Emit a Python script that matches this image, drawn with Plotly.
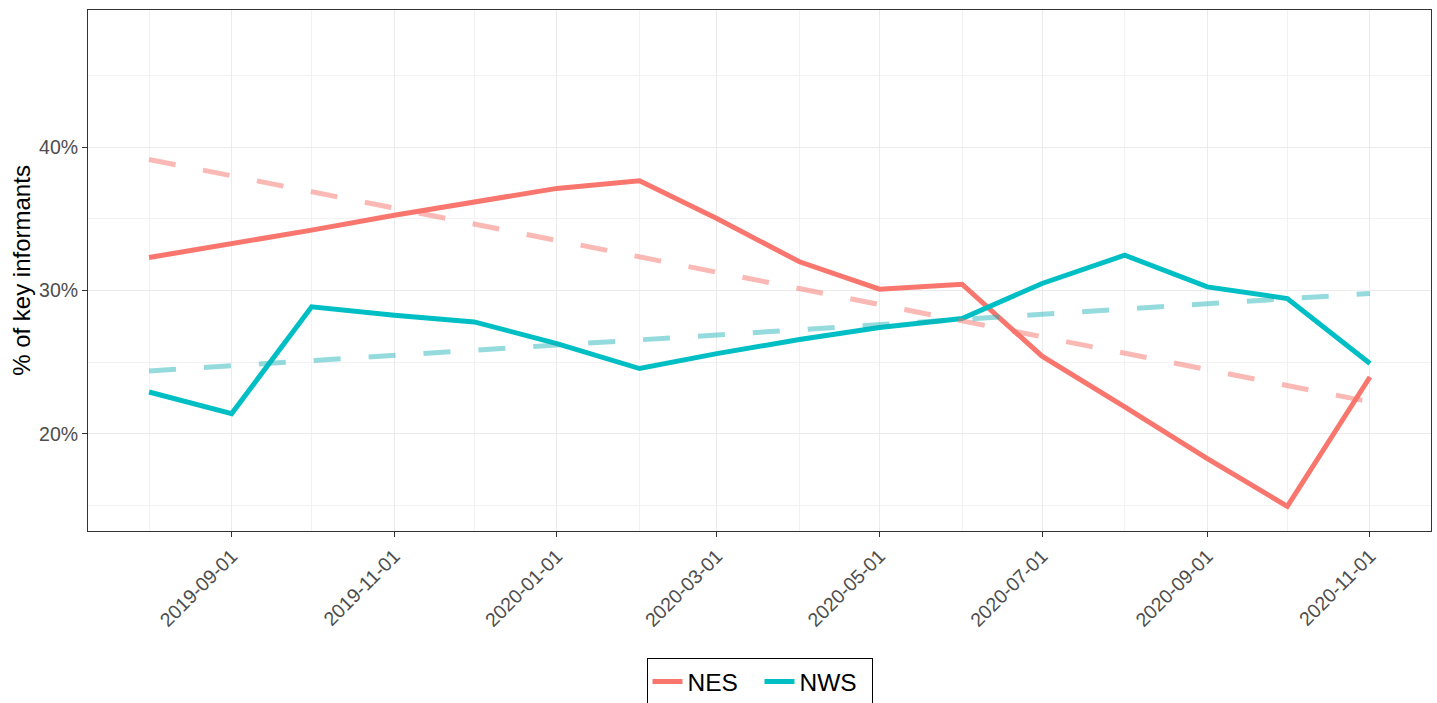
import plotly.graph_objects as go

months = ["2019-08-01", "2019-09-01", "2019-10-01", "2019-11-01", "2019-12-01",
          "2020-01-01", "2020-02-01", "2020-03-01", "2020-04-01", "2020-05-01",
          "2020-06-01", "2020-07-01", "2020-08-01", "2020-09-01", "2020-10-01",
          "2020-11-01"]
nes = [32.30, 33.23, 34.21, 35.25, 36.18, 37.12, 37.65, 35.02, 32.00, 30.09,
       30.44, 25.42, 21.88, 18.28, 14.95, 23.97]
nws = [22.92, 21.42, 28.86, 28.28, 27.81, 26.30, 24.56, 25.60, 26.58, 27.42,
       28.05, 30.49, 32.46, 30.25, 29.44, 24.91]

trend_dates = ["2019-08-01", "2020-11-01"]
nes_trend = [39.14, 22.23]
nws_trend = [24.39, 29.79]

x_tick_vals = ["2019-09-01", "2019-11-01", "2020-01-01", "2020-03-01",
               "2020-05-01", "2020-07-01", "2020-09-01", "2020-11-01"]
y_tick_vals = [20, 30, 40]
y_tick_text = ["20%", "30%", "40%"]

NES_COL = "#F8766D"
NWS_COL = "#00BFC4"
FONT = "Liberation Sans, Arial, Helvetica, sans-serif"

fig = go.Figure()
fig.add_trace(go.Scatter(x=months, y=nes, mode="lines", name="NES",
                         line=dict(color=NES_COL, width=5)))
fig.add_trace(go.Scatter(x=months, y=nws, mode="lines", name="NWS",
                         line=dict(color=NWS_COL, width=5)))
fig.add_trace(go.Scatter(x=trend_dates, y=nes_trend, mode="lines", showlegend=False,
                         line=dict(color="rgba(245,115,106,0.5)", width=5, dash="27px,28px")))
fig.add_trace(go.Scatter(x=trend_dates, y=nws_trend, mode="lines", showlegend=False,
                         line=dict(color="rgba(20,175,180,0.45)", width=5, dash="27px,28px")))

fig.update_layout(
    width=1437, height=703,
    margin=dict(l=88, r=6, t=10, b=172, autoexpand=False),
    paper_bgcolor="white", plot_bgcolor="white",
    font=dict(family=FONT, color="#000000"),
    showlegend=True,
    legend=dict(orientation="h", x=0.5, xanchor="center", y=-0.2438, yanchor="top",
                bordercolor="#000000", borderwidth=1, font=dict(size=24.5, color="#000000"),
                itemwidth=30, tracegroupgap=0, entrywidth=67),
)
fig.update_xaxes(
    type="date", automargin=False,
    range=["2019-07-09 02:24", "2020-11-23 21:36"],
    tickmode="array", tickvals=x_tick_vals, ticktext=x_tick_vals,
    tickangle=-45,
    tickfont=dict(size=19.5, color="#4D4D4D"),
    ticks="outside", ticklen=5, tickcolor="#333333", tickwidth=1,
    showgrid=True, gridcolor="#EBEBEB", gridwidth=1,
    minor=dict(dtick="M1", tick0="2019-08-01", showgrid=True, gridcolor="#F2F2F2", gridwidth=1),
    showline=True, linecolor="#333333", linewidth=1, mirror=True,
    zeroline=False,
)
fig.update_yaxes(
    automargin=False,
    range=[13.23, 49.56],
    tickmode="array", tickvals=y_tick_vals, ticktext=y_tick_text,
    tickfont=dict(size=19.5, color="#4D4D4D"),
    ticks="outside", ticklen=5, tickcolor="#333333", tickwidth=1,
    showgrid=True, gridcolor="#EBEBEB", gridwidth=1,
    minor=dict(tickvals=[15, 25, 35, 45], showgrid=True, gridcolor="#F2F2F2", gridwidth=1),
    showline=True, linecolor="#333333", linewidth=1, mirror=True,
    zeroline=False,
    title=dict(text="% of key informants", font=dict(size=24, color="#000000"), standoff=1),
)

fig.write_html("out.html")
